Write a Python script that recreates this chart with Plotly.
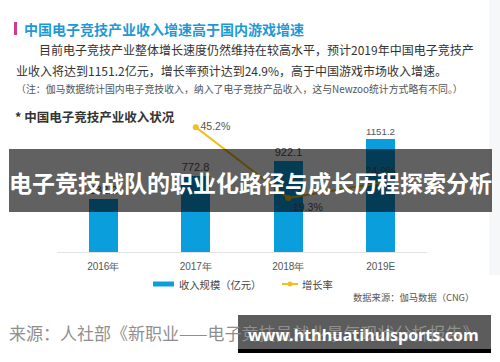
import plotly.graph_objects as go

# ---- data ----
years = ["2016年", "2017年", "2018年", "2019E"]
revenue = [532.2, 772.8, 922.1, 1151.2]          # 收入规模（亿元）
growth = [None, 45.2, 19.3, 24.9]                 # 增长率 (%)
growth_text = ["", "45.2%", "19.3%", "24.9%"]

title_text = "中国电子竞技产业收入增速高于国内游戏增速"
body_line1 = "目前电子竞技产业整体增长速度仍然维持在较高水平，预计2019年中国电子竞技产"
body_line2 = "业收入将达到1151.2亿元，增长率预计达到24.9%，高于中国游戏市场收入增速。"
note_line = "（注：伽马数据统计国内电子竞技收入，纳入了电子竞技产品收入，这与Newzoo统计方式略有不同。）"
chart_title = "* 中国电子竞技产业收入状况"
legend_bar = "收入规模（亿元）"
legend_line = "增长率"
data_source = "数据来源：伽马数据（CNG）"
overlay_title = "电子竞技战队的职业化路径与成长历程探索分析"
source_text = "来源：人社部《新职业——电子竞技员就业景气现状分析报告》"
watermark = "www.hthhuatihuisports.com"

W, H = 500, 362
def px(x): return x / W
def py(y): return 1 - y / H

CJK = "Noto Sans CJK SC"
BLUE = "#0a9fdc"
GOLD = "#f0c020"

fig = go.Figure()
xs = list(range(len(years)))
fig.add_trace(go.Bar(
    x=xs, y=revenue, width=0.31, marker=dict(color=BLUE, line=dict(width=0)),
    text=[f"{v:.1f}" for v in revenue], textposition="outside",
    textfont=dict(family="Liberation Sans, Arial", size=11, color="#555555"),
    cliponaxis=False, yaxis="y", showlegend=False,
))
fig.add_trace(go.Scatter(
    x=xs, y=growth, mode="lines+markers+text", yaxis="y2",
    line=dict(color=GOLD, width=2), marker=dict(color=GOLD, size=6),
    text=growth_text,
    textposition=["middle right", "middle right", "bottom right", "top center"],
    textfont=dict(family="Liberation Sans, Arial", size=10.5, color="#555555"),
    cliponaxis=False, showlegend=False, connectgaps=False,
))

ydom = [py(252), py(124.4)]
fig.update_layout(
    width=W, height=H, margin=dict(l=0, r=0, t=0, b=0),
    paper_bgcolor="white", plot_bgcolor="white",
    xaxis=dict(domain=[px(57), px(427)], range=[-0.5, 3.5], tickvals=xs, ticktext=years,
               showline=True, linecolor="#e3e3e3", linewidth=1, showgrid=False, zeroline=False,
               ticks="", ticklabelstandoff=5,
               tickfont=dict(family="Liberation Sans, Arial", size=10, color="#555555")),
    yaxis=dict(domain=ydom, range=[0, 1300], visible=False, showgrid=False),
    yaxis2=dict(domain=ydom, range=[-0.4, 46.2], overlaying="y", visible=False, showgrid=False),
    bargap=0,
)

shapes = []
shapes.append(dict(type="rect", xref="paper", yref="paper", x0=px(489), x1=1, y0=py(275), y1=1,
                   fillcolor="#f6f7f8", line=dict(width=0), layer="below"))
shapes.append(dict(type="rect", xref="paper", yref="paper", x0=px(14), x1=px(17), y0=py(35), y1=py(22),
                   fillcolor="#cc3d8c", line=dict(width=0)))
shapes.append(dict(type="line", xref="paper", yref="paper", x0=px(153), x1=px(174), y0=py(284), y1=py(284),
                   line=dict(color=BLUE, width=5)))
shapes.append(dict(type="line", xref="paper", yref="paper", x0=px(282), x1=px(298), y0=py(284), y1=py(284),
                   line=dict(color=GOLD, width=2)))
shapes.append(dict(type="circle", xref="paper", yref="paper", x0=px(287.5), x1=px(292.5), y0=py(286.5), y1=py(281.5),
                   fillcolor=GOLD, line=dict(width=0)))
shapes.append(dict(type="rect", xref="paper", yref="paper", x0=px(9), x1=px(492), y0=py(212), y1=py(149),
                   fillcolor="rgba(0,0,0,0.62)", line=dict(width=0), layer="above"))
shapes.append(dict(type="rect", xref="paper", yref="paper", x0=px(238), x1=px(491), y0=py(349), y1=py(315),
                   fillcolor="rgba(0,0,0,0.64)", line=dict(width=0), layer="above"))
shapes.append(dict(type="rect", xref="paper", yref="paper", x0=px(238), x1=px(491), y0=py(353), y1=py(349),
                   fillcolor="#000000", line=dict(width=0), layer="above"))
fig.update_layout(shapes=shapes)

def ann(text, x, y, size, color, bold=False, xanchor="left", family=CJK):
    t = f"<b>{text}</b>" if bold else text
    fig.add_annotation(text=t, x=px(x), y=py(y), xref="paper", yref="paper", showarrow=False,
                       xanchor=xanchor, yanchor="middle",
                       font=dict(family=family, size=size, color=color))

ann(title_text, 22, 29, 14, "#1d9ad6", bold=True)
ann(body_line1, 37, 50, 12, "#333333")
ann(body_line2, 14, 70, 12, "#333333")
ann(note_line, 14, 89, 9.9, "#555555")
ann(chart_title, 13, 116, 12.5, "#333333", bold=True)
ann(legend_bar, 177, 284, 10.3, "#444444")
ann(legend_line, 300, 284, 10.3, "#444444")
ann(data_source, 351, 297, 9.3, "#555555")
ann(source_text, 7, 332, 17, "#8f8f8f")
ann(overlay_title, 250, 182, 23, "#ffffff", bold=True, xanchor="center")
ann(watermark, 363, 335, 16, "#ffffff", bold=True, xanchor="center", family="Open Sans, Noto Sans, sans-serif")

fig.write_html("out.html", config={"displayModeBar": False},
               post_script="document.body.style.margin='0px';")
